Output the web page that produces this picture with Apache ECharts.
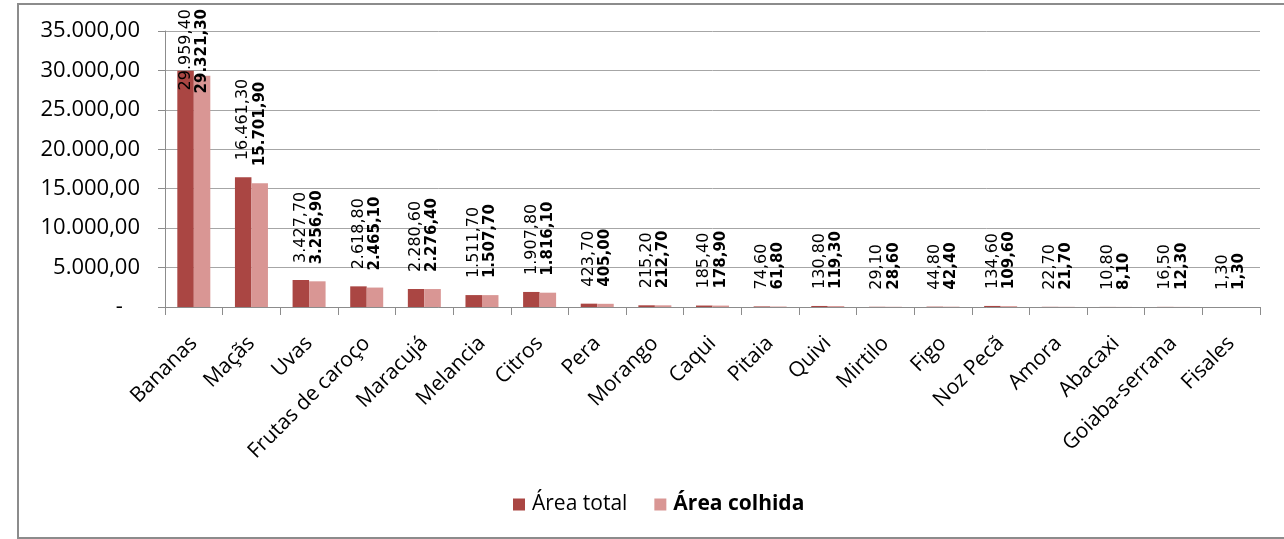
<!DOCTYPE html>
<html>
<head>
<meta charset="utf-8">
<script src="https://cdn.jsdelivr.net/npm/echarts@6/dist/echarts.min.js"></script>
<style>
  html, body { margin: 0; padding: 0; background: #fff; }
  #frame { position: absolute; left: 17px; top: 3px; width: 1290px; height: 532px; border: 2px solid #8c8c8c; }
  #chart { position: absolute; left: 0; top: 0; width: 1284px; height: 539px; }
</style>
</head>
<body>
<div id="frame"></div>
<div id="chart"></div>
<script>
// Fruit area chart - área total vs área colhida (ha)

const categories = ['Bananas', 'Maçãs', 'Uvas', 'Frutas de caroço', 'Maracujá', 'Melancia', 'Citros', 'Pera', 'Morango',
  'Caqui', 'Pitaia', 'Quivi', 'Mirtilo', 'Figo', 'Noz Pecã', 'Amora', 'Abacaxi', 'Goiaba-serrana', 'Fisales'];

const areaTotal = [29959.4, 16461.3, 3427.7, 2618.8, 2280.6, 1511.7, 1907.8, 423.7, 215.2,
  185.4, 74.6, 130.8, 29.1, 44.8, 134.6, 22.7, 10.8, 16.5, 1.3];

const areaColhida = [29321.3, 15701.9, 3256.9, 2465.1, 2276.4, 1507.7, 1816.1, 405.0, 212.7,
  178.9, 61.8, 119.3, 28.6, 42.4, 109.6, 21.7, 8.1, 12.3, 1.3];

const seriesNames = ['Área total', 'Área colhida'];

const COLORS = { total: '#aa4643', colhida: '#d99694', grid: '#a6a6a6', axis: '#8c8c8c' };
const FONT = '"Open Sans", sans-serif';
const LABEL_FONT = '"DejaVu Sans", sans-serif';
const LABEL_DIST = 17;
const LABEL_TOP = 9; // labels never go above this y

// Helper: 1.234,56 style
function fmtBR(n) {
  const parts = n.toFixed(2).split('.');
  return parts[0].replace(/\B(?=(\d{3})+(?!\d))/g, '.') + ',' + parts[1];
}

const measureCtx = document.createElement('canvas').getContext('2d');
function textLen(str, size, bold) {
  measureCtx.font = (bold ? 'bold ' : '') + size + 'px ' + LABEL_FONT;
  return measureCtx.measureText(str).width;
}

function labelSize(bold) { return bold ? 15 : 16; }

function barSeries(name, data, color, bold) {
  return {
    name: name,
    type: 'bar',
    data: data,
    barWidth: 16.5,
    barGap: '0%',
    itemStyle: { color: color },
    label: {
      show: true,
      position: 'top',
      rotate: 90,
      align: 'left',
      verticalAlign: 'middle',
      distance: LABEL_DIST,
      color: '#000',
      fontFamily: LABEL_FONT,
      fontSize: labelSize(bold),
      fontWeight: bold ? 'bold' : 'normal',
      formatter: p => fmtBR(p.value)
    }
  };
}

const chart = echarts.init(document.getElementById('chart'));
chart.setOption({
  animation: false,
  backgroundColor: 'transparent',
  grid: { left: 165, right: 24, top: 31, bottom: 232 },
  legend: {
    top: 489,
    left: 508,
    itemWidth: 12,
    itemHeight: 12,
    itemGap: 27,
    icon: 'rect',
    textStyle: { fontFamily: FONT, fontSize: 21, color: '#000', padding: [0, 0, 0, 2] },
    data: [
      { name: seriesNames[0] },
      { name: seriesNames[1], textStyle: { fontWeight: 'bold' } }
    ]
  },
  xAxis: {
    type: 'category',
    data: categories,
    axisLine: { lineStyle: { color: COLORS.axis, width: 1 } },
    axisTick: { show: true, length: 8, lineStyle: { color: COLORS.axis } },
    axisLabel: { rotate: 45, margin: 33, interval: 0, color: '#000', fontFamily: FONT, fontSize: 21 }
  },
  yAxis: {
    type: 'value',
    min: 0,
    max: 35000,
    interval: 5000,
    axisLine: { show: true, lineStyle: { color: COLORS.axis } },
    axisTick: { show: true, length: 7, lineStyle: { color: COLORS.axis } },
    splitLine: { lineStyle: { color: COLORS.grid, width: 1 } },
    axisLabel: {
      margin: 25,
      color: '#000',
      fontFamily: FONT,
      fontSize: 22,
      formatter: v => (v === 0 ? '-\u00a0\u00a0\u00a0' : fmtBR(v))
    }
  },
  series: [
    barSeries(seriesNames[0], areaTotal, COLORS.total, false),
    barSeries(seriesNames[1], areaColhida, COLORS.colhida, true)
  ]
});

// Tall bars: pull the label down so it stays inside the chart, as Excel does
function fitLabels(values, bold) {
  return values.map(v => {
    const yTop = chart.convertToPixel({ yAxisIndex: 0 }, v);
    const len = textLen(fmtBR(v), labelSize(bold), bold);
    if (yTop - LABEL_DIST - len >= LABEL_TOP) return v;
    return { value: v, label: { position: ['50%', LABEL_TOP + len - yTop] } };
  });
}
chart.setOption({
  series: [
    { data: fitLabels(areaTotal, false) },
    { data: fitLabels(areaColhida, true) }
  ]
});
</script>
</body>
</html>
